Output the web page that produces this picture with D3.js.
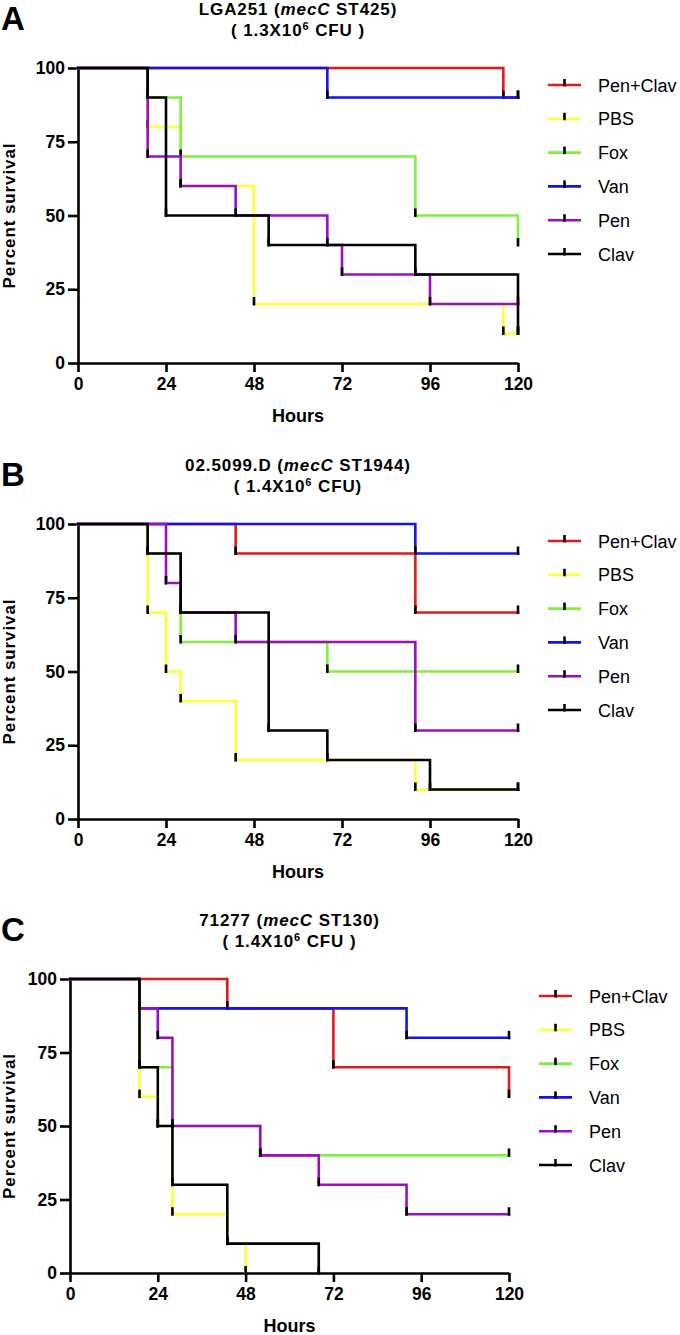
<!DOCTYPE html>
<html><head><meta charset="utf-8">
<script src="https://cdn.jsdelivr.net/npm/d3@7/dist/d3.min.js"></script>
<style>
body{margin:0;background:#fff;}
svg text{font-family:"Liberation Sans",Arial,Helvetica,sans-serif;}
</style>
</head><body>
<svg id="chart" width="680" height="1335"></svg>
<script>
// ---------- data ----------
const seriesNames = ["Pen+Clav","PBS","Fox","Van","Pen","Clav"];
const seriesColors = ["#e31a1c","#ffff33","#80f040","#1414e6","#9a0fc4","#000000"];
const xTicks = [0,24,48,72,96,120];
const yTicks = [0,25,50,75,100];

// Panel A  (hours, percent survival)
const A_PenClav = [[0,100],[116,90],[120,90]];
const A_PBS     = [[0,100],[19,80],[28,60],[48,20],[116,10],[120,10]];
const A_Fox     = [[0,100],[19,90],[28,70],[92,50],[120,40]];
const A_Van     = [[0,100],[68,90],[120,90]];
const A_Pen     = [[0,100],[19,70],[28,60],[43,50],[68,40],[72,30],[96,20],[120,20]];
const A_Clav    = [[0,100],[19,90],[24,50],[52,40],[92,30],[120,10]];

// Panel B
const B_PenClav = [[0,100],[43,90],[92,70],[120,70]];
const B_PBS     = [[0,100],[19,70],[24,50],[28,40],[43,20],[92,10],[120,10]];
const B_Fox     = [[0,100],[19,90],[28,60],[68,50],[120,50]];
const B_Van     = [[0,100],[92,90],[120,90]];
const B_Pen     = [[0,100],[24,80],[28,70],[43,60],[92,30],[120,30]];
const B_Clav    = [[0,100],[19,90],[28,70],[52,30],[68,20],[96,10],[120,10]];

// Panel C
const C_PenClav = [[0,100],[43,90],[72,70],[120,60]];
const C_PBS     = [[0,100],[19,60],[24,50],[28,20],[43,10],[48,0]];
const C_Fox     = [[0,100],[19,70],[28,50],[52,40],[120,40]];
const C_Van     = [[0,100],[19,90],[92,80],[120,80]];
const C_Pen     = [[0,100],[19,90],[24,80],[28,50],[52,40],[68,30],[92,20],[120,20]];
const C_Clav    = [[0,100],[19,70],[24,50],[28,30],[43,10],[68,0]];

const panelLetters = ["A","B","C"];
const panelStrains = ["LGA251","02.5099.D","71277"];
const panelST      = ["ST425","ST1944","ST130"];
const panelDose    = ["1.3","1.4","1.4"];
const panelDoseEnd = [" CFU )"," CFU)"," CFU )"];
const panelData = [
  [A_PenClav,A_PBS,A_Fox,A_Van,A_Pen,A_Clav],
  [B_PenClav,B_PBS,B_Fox,B_Van,B_Pen,B_Clav],
  [C_PenClav,C_PBS,C_Fox,C_Van,C_Pen,C_Clav]
];

// ---------- layout ----------
const layouts = [
  {left:78, right:518, top:68,  bottom:363,  legendX:548},
  {left:78, right:518, top:524, bottom:819,  legendX:548},
  {left:70, right:509, top:979, bottom:1273, legendX:539}
];

const svg = d3.select("#chart");

panelData.forEach((data, p) => {
  const L = layouts[p];
  const g = svg.append("g");
  const x = d3.scaleLinear().domain([0,120]).range([L.left, L.right]);
  const y = d3.scaleLinear().domain([0,100]).range([L.bottom, L.top]);
  const cx = (L.left + L.right) / 2;

  // panel letter
  g.append("text").attr("x", 1).attr("y", L.top - 38)
    .attr("font-size", 33).attr("font-weight", "bold").text(panelLetters[p]);

  // title
  const t1 = g.append("text").attr("x", cx).attr("y", L.top - 53)
    .attr("text-anchor", "middle").attr("font-size", 17).attr("font-weight", "bold")
    .attr("letter-spacing", 0.9);
  t1.append("tspan").text(panelStrains[p] + " (");
  t1.append("tspan").attr("font-style", "italic").text("mecC");
  t1.append("tspan").text(" " + panelST[p] + ")");

  const t2 = g.append("text").attr("x", cx).attr("y", L.top - 32)
    .attr("text-anchor", "middle").attr("font-size", 17).attr("font-weight", "bold")
    .attr("letter-spacing", 0.9);
  t2.append("tspan").text("( " + panelDose[p] + "X10");
  t2.append("tspan").attr("font-size", 11).attr("dy", -6).text("6");
  t2.append("tspan").attr("dy", 6).text(panelDoseEnd[p]);

  // axes
  const yAxis = g.append("g").attr("transform", `translate(${L.left},0)`)
    .call(d3.axisLeft(y).tickValues(yTicks).tickSize(10).tickSizeOuter(0).tickPadding(3));
  const xAxis = g.append("g").attr("transform", `translate(0,${L.bottom})`)
    .call(d3.axisBottom(x).tickValues(xTicks).tickSize(9).tickSizeOuter(0).tickPadding(6));
  [yAxis, xAxis].forEach(a => {
    a.attr("font-family", null).attr("font-size", null);
    a.select(".domain").attr("stroke", "#000").attr("stroke-width", 2.6);
    a.selectAll(".tick line").attr("stroke", "#000").attr("stroke-width", 2.6);
    a.selectAll(".tick text").attr("font-size", 17.5).attr("font-weight", "bold")
      .attr("fill", "#000").style("font-family", '"Liberation Sans",Arial,sans-serif');
  });

  // axis titles
  g.append("text").attr("transform", `translate(15,${(L.top + L.bottom) / 2}) rotate(-90)`)
    .attr("text-anchor", "middle").attr("font-size", 17).attr("font-weight", "bold")
    .attr("letter-spacing", 0.9)
    .text("Percent survival");
  g.append("text").attr("x", cx).attr("y", L.bottom + 59)
    .attr("text-anchor", "middle").attr("font-size", 18).attr("font-weight", "bold")
    .text("Hours");

  // curves
  const line = d3.line().x(d => x(d[0])).y(d => y(d[1])).curve(d3.curveStepAfter);
  data.forEach((s, i) => {
    const sg = g.append("g");
    sg.append("path").attr("d", line(s)).attr("fill", "none")
      .attr("stroke", seriesColors[i]).attr("stroke-width", 2.6)
      .attr("stroke-linecap", "square");
    sg.selectAll("line.mark").data(s.slice(1)).enter().append("line")
      .attr("x1", d => x(d[0])).attr("x2", d => x(d[0]))
      .attr("y1", d => y(d[1]) - 7).attr("y2", d => y(d[1]) + 1.5)
      .attr("stroke", "#000").attr("stroke-width", 2.6);
  });

  // legend
  seriesNames.forEach((name, i) => {
    const ly = L.top + 17 + i * 33.8;
    g.append("line").attr("x1", L.legendX).attr("x2", L.legendX + 33)
      .attr("y1", ly).attr("y2", ly).attr("stroke", seriesColors[i]).attr("stroke-width", 2.6);
    g.append("line").attr("x1", L.legendX + 16.5).attr("x2", L.legendX + 16.5)
      .attr("y1", ly - 6).attr("y2", ly + 1.5).attr("stroke", "#000").attr("stroke-width", 2.6);
    g.append("text").attr("x", L.legendX + 50).attr("y", ly + 6.5)
      .attr("font-size", 18).text(name);
  });
});
</script>
</body></html>
